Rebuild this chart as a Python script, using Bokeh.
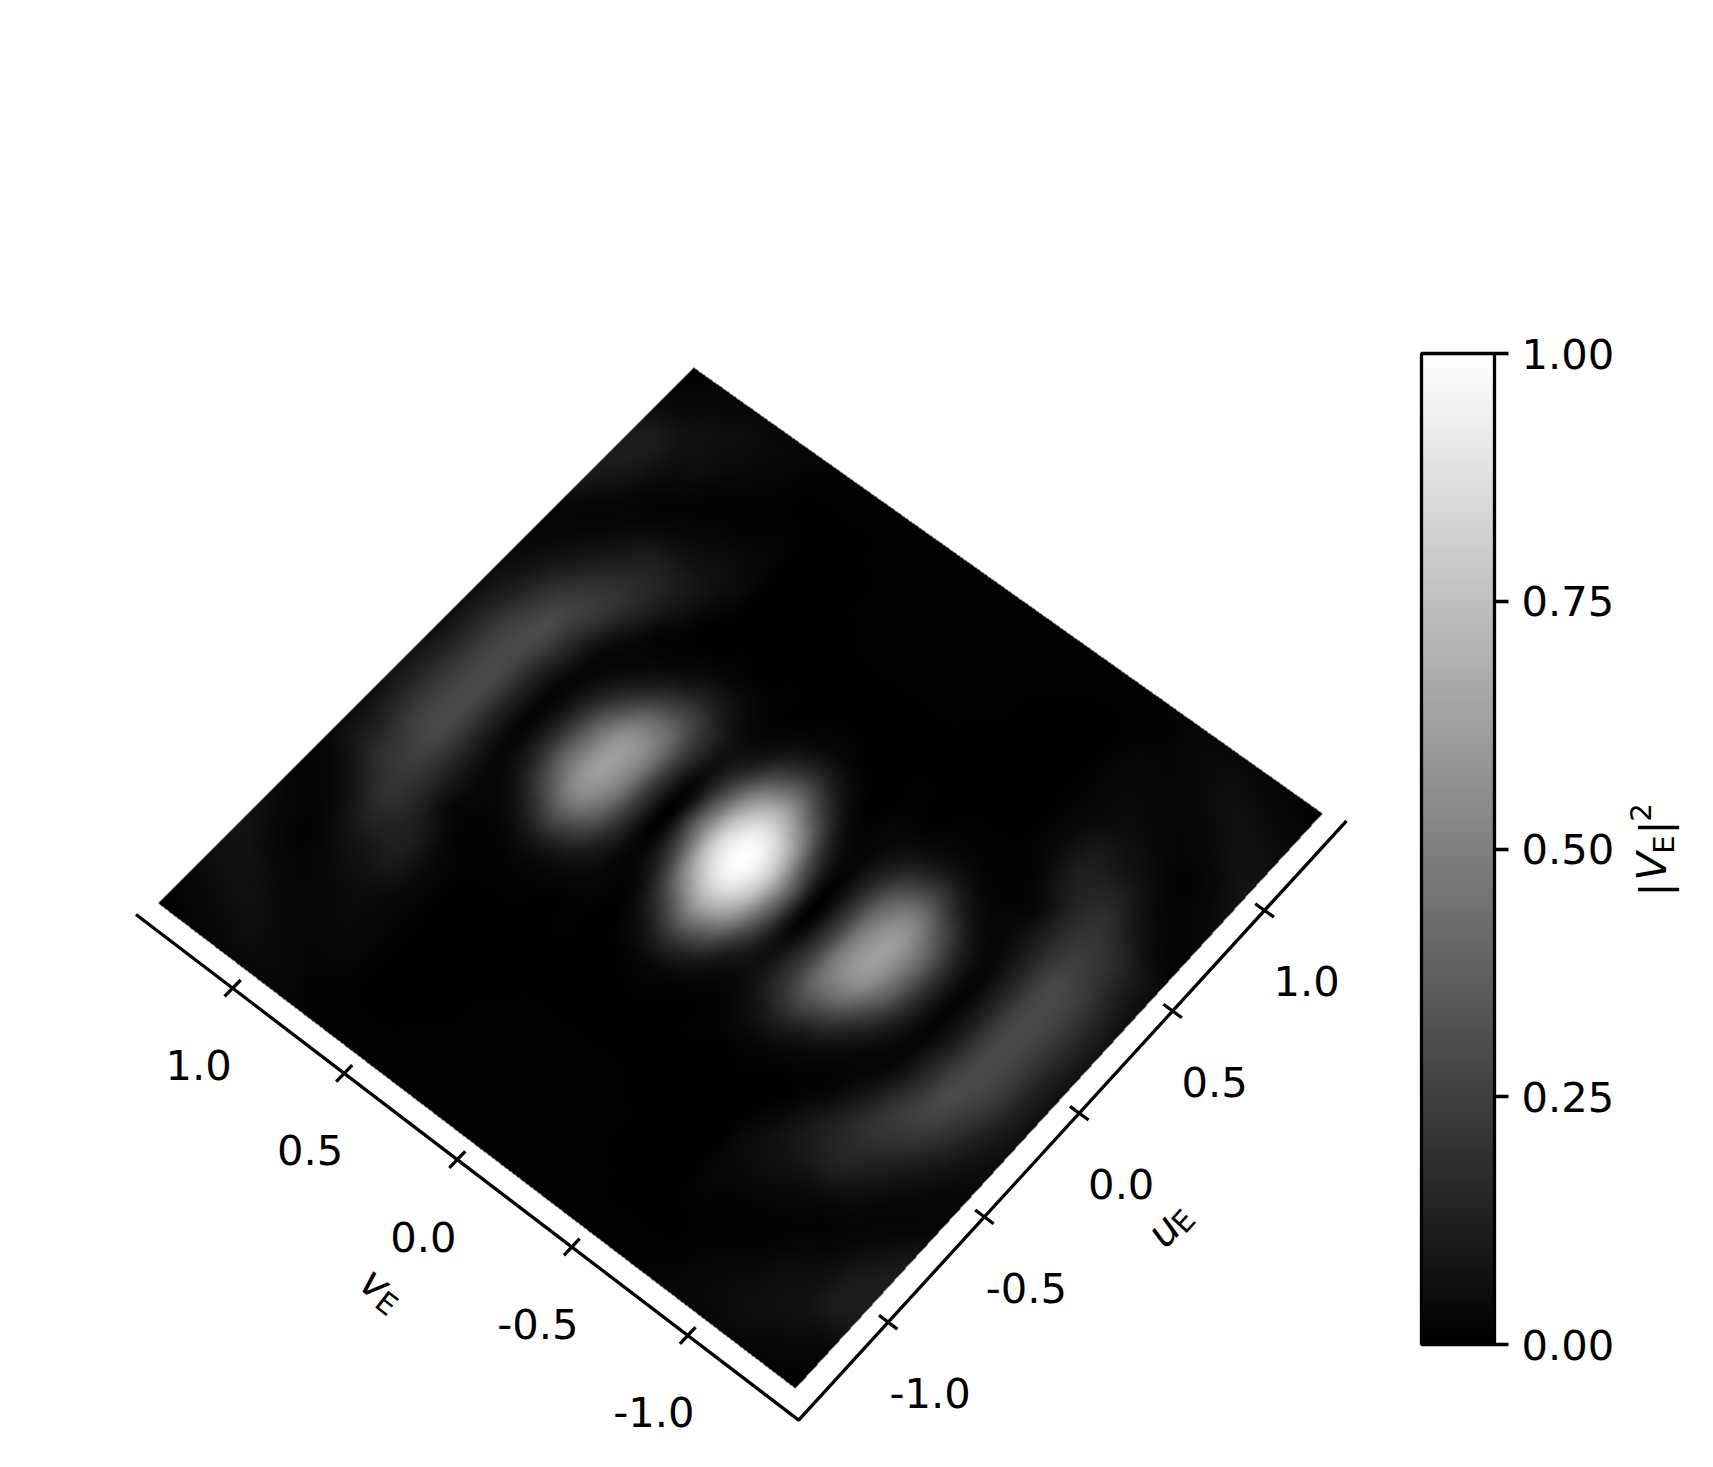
import numpy as np
from bokeh.plotting import figure
from bokeh.models import Range1d, ColorBar, LinearColorMapper, FixedTicker, PrintfTickFormatter
from bokeh.palettes import gray
from bokeh.core.properties import value
from bokeh.embed import file_html
from bokeh.resources import INLINE

# |V_E|^2 in percent. Rows: v = 0.0 .. 1.5 (step 0.1).
# vis_right columns: u = 0.0 .. 1.5; vis_left columns: u = 0.0 .. -1.5.
vis_right = [
 [100,93,72,43,18,4,1,0,0,1,1,1,1,1,1,1],
 [84,78,60,34,13,3,1,0,0,1,1,1,1,1,1,1],
 [40,36,26,12,4,1,0,0,0,1,1,1,1,1,1,1],
 [1,3,6,6,3,1,1,0,0,0,1,1,1,1,1,1],
 [18,19,20,16,8,3,0,0,0,0,0,0,1,1,1,1],
 [50,50,42,27,12,3,1,0,0,0,0,0,0,1,1,1],
 [62,58,43,22,7,2,0,0,0,0,0,0,0,1,1,1],
 [44,39,24,10,3,1,1,3,4,3,2,1,0,1,1,1],
 [17,14,8,3,2,3,7,8,6,4,1,1,1,1,2,2],
 [2,2,3,4,8,13,14,11,6,3,1,1,2,3,3,2],
 [12,12,15,17,21,20,16,12,5,2,1,2,4,4,3,2],
 [27,27,28,28,24,18,12,7,3,1,3,5,5,5,3,1],
 [26,26,25,21,17,11,6,3,2,3,5,6,6,4,2,1],
 [15,15,14,11,8,5,3,2,4,8,10,10,5,3,1,0],
 [6,6,6,5,4,3,2,4,9,11,11,9,4,2,0,0],
 [2,2,2,2,2,2,3,5,10,10,8,5,2,1,0,0],
]
vis_left = [
 [100,93,72,43,18,4,1,0,0,1,1,1,1,1,1,1],
 [82,74,50,24,8,2,0,0,0,1,1,1,1,1,1,1],
 [36,28,15,5,1,0,0,0,0,1,1,1,1,1,1,1],
 [1,1,2,2,2,1,1,0,0,0,1,1,1,1,1,1],
 [18,18,15,9,4,1,0,0,0,0,0,0,1,1,1,1],
 [48,47,38,21,7,2,1,0,0,0,0,0,0,1,1,1],
 [62,60,48,27,9,2,1,0,0,0,0,0,0,1,1,1],
 [44,43,31,14,4,1,1,1,1,1,1,1,1,1,1,1],
 [18,17,11,4,2,1,2,4,4,3,3,3,2,1,2,2],
 [2,2,3,4,5,4,9,11,9,5,4,3,2,3,3,2],
 [12,12,13,14,15,15,15,13,8,5,3,3,3,4,3,2],
 [27,27,27,27,24,21,18,12,6,3,2,3,5,5,3,1],
 [26,26,26,25,21,18,11,5,2,1,3,5,6,4,2,1],
 [16,16,16,15,12,10,4,2,2,3,5,7,5,3,1,0],
 [7,7,7,6,5,4,2,2,4,6,8,6,4,2,0,0],
 [2,2,2,2,2,2,3,5,7,7,6,4,2,1,0,0],
]
u_ticks = [-1.0, -0.5, 0.0, 0.5, 1.0]
v_ticks = [-1.0, -0.5, 0.0, 0.5, 1.0]
cbar_ticks = [0.0, 0.25, 0.5, 0.75, 1.0]
table_step = 0.1

# layout
PAGE_W, PAGE_H = 1713, 1467
FIG_W, FIG_H = PAGE_W - 16, PAGE_H - 16
R = 1.40
AX_LO, AX_HI = -R - 0.08, R + 0.03
U_SHIFT, V_SHIFT = -0.022, -0.008
corner_uv = [(-R, -R), (R, -R), (R, R), (-R, R)]
corner_px = [(795, 1388), (1322, 813), (693, 367), (158, 903)]

# projective map from (u, v) to page pixels
A, b = [], []
for (a1, a2), (x, y) in zip(corner_uv, corner_px):
    A.append([a1, a2, 1, 0, 0, 0, -x * a1, -x * a2]); b.append(x)
    A.append([0, 0, 0, a1, a2, 1, -y * a1, -y * a2]); b.append(y)
H = np.append(np.linalg.solve(np.array(A, float), np.array(b, float)), 1.0).reshape(3, 3)
Hinv = np.linalg.inv(H)

def to_px(u, v):
    u, v = np.asarray(u, float), np.asarray(v, float)
    w = H[2, 0] * u + H[2, 1] * v + H[2, 2]
    return (H[0, 0] * u + H[0, 1] * v + H[0, 2]) / w, (H[1, 0] * u + H[1, 1] * v + H[1, 2]) / w

# full table from the two read quadrants (|V|^2 is point symmetric)
right, left = np.array(vis_right, float) / 100, np.array(vis_left, float) / 100
upper = np.hstack([left[:, :0:-1], right])
table = np.vstack([upper[:0:-1, ::-1], upper])   # row 0: v=-1.5, column 0: u=-1.5
tab_lim = (table.shape[0] - 1) / 2 * table_step

def cubic_weights(t):
    return ((-t + 2 * t**2 - t**3) / 2, (2 - 5 * t**2 + 3 * t**3) / 2,
            (t + 4 * t**2 - 3 * t**3) / 2, (-t**2 + t**3) / 2)

def resample(u, v):
    fu, fv = (u + tab_lim) / table_step, (v + tab_lim) / table_step
    iu, iv = np.floor(fu).astype(int), np.floor(fv).astype(int)
    wu, wv = cubic_weights(fu - iu), cubic_weights(fv - iv)
    n = table.shape[0] - 1
    out = np.zeros_like(u)
    for j in range(4):
        for i in range(4):
            out += wv[j] * wu[i] * table[np.clip(iv + j - 1, 0, n), np.clip(iu + i - 1, 0, n)]
    return np.clip(out, 0, 1)

xs = [c[0] for c in corner_px]; ys = [c[1] for c in corner_px]
x0, x1, y0, y1 = min(xs), max(xs) + 1, min(ys), max(ys) + 1
gx, gy = np.meshgrid(np.arange(x0, x1) + 0.5, np.arange(y0, y1) + 0.5)
w = Hinv[2, 0] * gx + Hinv[2, 1] * gy + Hinv[2, 2]
gu = (Hinv[0, 0] * gx + Hinv[0, 1] * gy + Hinv[0, 2]) / w
gv = (Hinv[1, 0] * gx + Hinv[1, 1] * gy + Hinv[1, 2]) / w
inside = (np.abs(gu) <= R) & (np.abs(gv) <= R)
level = np.round(resample(np.clip(gu, -R, R), np.clip(gv, -R, R)) * 255).astype(np.uint32)
rgba = (np.where(inside, 255, 0).astype(np.uint32) << 24) | (level << 16) | (level << 8) | level

p = figure(width=FIG_W, height=FIG_H, x_range=Range1d(0, FIG_W), y_range=Range1d(FIG_H, 0),
           output_backend="svg", toolbar_location=None, x_axis_location=None, y_axis_location=None,
           min_border=0, outline_line_color=None, background_fill_color="white", border_fill_color="white")
p.grid.visible = False

p.image_rgba(image=[rgba], x=[x0], y=[y0], dw=[x1 - x0], dh=[y1 - y0])

# axes
AXW = 3.3
FS, FS_SUB = "41.67px", "29.2px"
TEXT = dict(text_font=value("DejaVu Sans"), text_color="black", text_baseline="middle", text_align="center")
lx, ly = to_px([AX_HI, AX_LO, AX_LO], [AX_LO, AX_LO, AX_HI])
p.line(lx, ly, line_color="black", line_width=AXW)

def ticks_along(pos, along_u):
    pos = np.array(pos, float)
    d = 0.05
    if along_u:
        pos = pos + U_SHIFT
        cx, cy = to_px(pos, pos * 0 + AX_LO)
        ax, ay = to_px(pos, pos * 0 + AX_LO + d)
    else:
        pos = pos + V_SHIFT
        cx, cy = to_px(pos * 0 + AX_LO, pos)
        ax, ay = to_px(pos * 0 + AX_LO + d, pos)
    n = np.hypot(ax - cx, ay - cy)
    tx, ty = (ax - cx) / n * 11.5, (ay - cy) / n * 11.5
    return cx, cy, tx, ty

ucx, ucy, utx, uty = ticks_along(u_ticks, True)
vcx, vcy, vtx, vty = ticks_along(v_ticks, False)
p.segment(ucx - utx, ucy - uty, ucx + utx, ucy + uty, line_color="black", line_width=AXW)
p.segment(vcx - vtx, vcy - vty, vcx + vtx, vcy + vty, line_color="black", line_width=AXW)
p.text(ucx, ucy, text=[f"{t:.1f}" for t in u_ticks], x_offset=42, y_offset=71, text_font_size=value(FS), **TEXT)
p.text(vcx, vcy, text=[f"{t:.1f}" for t in v_ticks], x_offset=-34, y_offset=77, text_font_size=value(FS), **TEXT)

# axis labels
ang_u, ang_v = np.radians(47.6), np.radians(-38)
p.text([1163], [1230], text=["u"], angle=ang_u, text_font_style="italic", text_font_size=value(FS), **TEXT)
p.text([1183], [1221], text=["E"], angle=ang_u, text_font_size=value(FS_SUB), **TEXT)
p.text([375], [1283], text=["v"], angle=ang_v, text_font_style="italic", text_font_size=value(FS), **TEXT)
p.text([386], [1303], text=["E"], angle=ang_v, text_font_size=value(FS_SUB), **TEXT)

# colour bar
mapper = LinearColorMapper(palette=gray(256), low=0, high=1)
cb = ColorBar(color_mapper=mapper, location=(1421, FIG_H - 1344), width=73, height=991, padding=0, margin=0,
              ticker=FixedTicker(ticks=cbar_ticks), formatter=PrintfTickFormatter(format="%.2f"),
              bar_line_color="black", bar_line_width=AXW, major_tick_line_color="black", major_tick_line_width=AXW,
              major_tick_in=0, major_tick_out=14, minor_tick_line_color=None, label_standoff=13,
              major_label_text_font="DejaVu Sans", major_label_text_font_size=FS, major_label_text_color="black",
              background_fill_alpha=0, border_line_color=None)
p.add_layout(cb, "center")

ang_c = np.pi / 2
p.text([1654], [889], text=["|"], angle=ang_c, text_font_size=value(FS), **TEXT)
p.text([1651], [866], text=["V"], angle=ang_c, text_font_style="italic", text_font_size=value(FS), **TEXT)
p.text([1663], [844], text=["E"], angle=ang_c, text_font_size=value(FS_SUB), **TEXT)
p.text([1654], [827], text=["|"], angle=ang_c, text_font_size=value(FS), **TEXT)
p.text([1640], [812], text=["2"], angle=ang_c, text_font_size=value(FS_SUB), **TEXT)

open("out.html", "w").write(file_html(p, INLINE))
